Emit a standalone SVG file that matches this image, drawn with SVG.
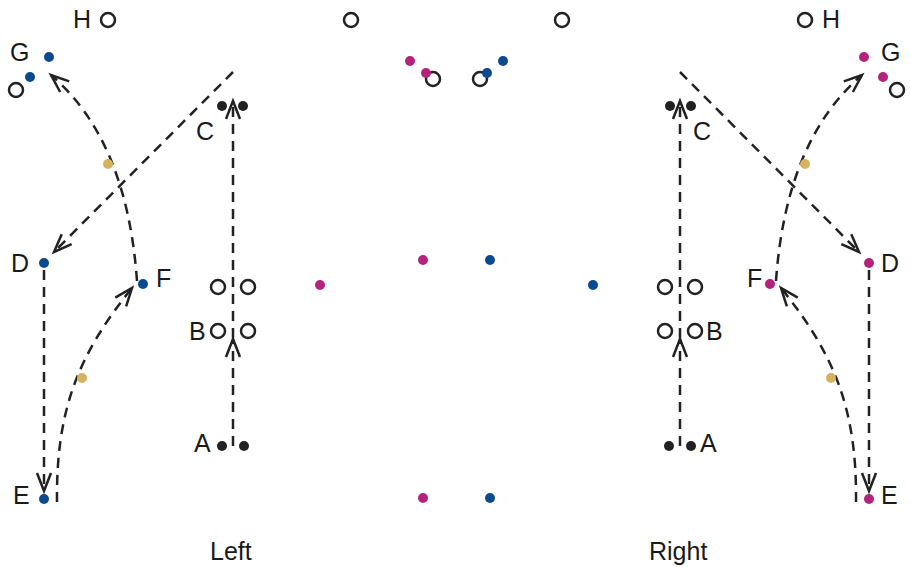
<svg xmlns="http://www.w3.org/2000/svg" width="910" height="567" viewBox="0 0 910 567">
<defs>
<style>
.lbl{font-family:"Liberation Sans","DejaVu Sans",sans-serif;font-size:25px;fill:#1a1a1a}
.route{fill:none;stroke:#222;stroke-width:2.5;stroke-dasharray:10 7;marker-end:url(#arr)}
.open{fill:#fff;stroke:#222;stroke-width:2.5}
.blk{fill:#222}
.blu{fill:#0b4a8f}
.mag{fill:#b3237b}
.tan{fill:#d6b25f}
</style>
<marker id="arr" markerUnits="userSpaceOnUse" markerWidth="40" markerHeight="40" viewBox="-20 -20 40 40" refX="0" refY="0" orient="auto">
<path d="M-18,-7 L0,0 L-18,7" fill="none" stroke="#222" stroke-width="2.5" stroke-linejoin="miter"/>
</marker>
</defs>
<rect width="910" height="567" fill="#fff"/>

<g id="connectors">
<path class="route" d="M233,446 V339"/>
<path class="route" d="M233,338 V101"/>
<path class="route" d="M233,72 L54,252"/>
<path class="route" d="M44,270 V491"/>
<path class="route" d="M57,502 C56,410 78,355 132,288"/>
<path class="route" d="M137,281 Q127,140 51,75"/>
<path class="route" d="M680,446 V339"/>
<path class="route" d="M680,338 V101"/>
<path class="route" d="M680,72 L859,252"/>
<path class="route" d="M869,270 V491"/>
<path class="route" d="M856,502 C857,410 835,355 781,288"/>
<path class="route" d="M776,281 Q786,140 862,75"/>
</g>

<g id="left-H"><circle class="open" cx="108" cy="20" r="7"/><text class="lbl" x="73" y="28">H</text></g>
<g id="left-G"><circle class="blu" cx="49" cy="57" r="5"/><circle class="blu" cx="30" cy="77" r="5"/><circle class="open" cx="16" cy="90" r="7"/><text class="lbl" x="10" y="61">G</text></g>
<g id="left-C"><circle class="blk" cx="222" cy="106" r="5"/><circle class="blk" cx="243" cy="106" r="5"/><text class="lbl" x="196" y="140">C</text></g>
<g id="left-D"><circle class="blu" cx="44" cy="263" r="5"/><text class="lbl" x="11" y="272">D</text></g>
<g id="left-F"><circle class="blu" cx="143" cy="284" r="5"/><text class="lbl" x="156" y="287">F</text></g>
<g id="left-B"><circle class="open" cx="218" cy="287" r="7"/><circle class="open" cx="248" cy="287" r="7"/><circle class="open" cx="218" cy="331" r="7"/><circle class="open" cx="248" cy="331" r="7"/><text class="lbl" x="189" y="340">B</text></g>
<g id="left-A"><circle class="blk" cx="222" cy="446" r="5"/><circle class="blk" cx="244" cy="446" r="5"/><text class="lbl" x="194" y="452">A</text></g>
<g id="left-E"><circle class="blu" cx="44" cy="499" r="5"/><text class="lbl" x="13" y="504">E</text></g>
<g id="left-tan"><circle class="tan" cx="108" cy="164" r="5"/><circle class="tan" cx="82" cy="378" r="5"/></g>

<g id="center">
<circle class="open" cx="351" cy="20" r="7"/>
<circle class="open" cx="562" cy="20" r="7"/>
<circle class="open" cx="433" cy="79" r="7"/>
<circle class="open" cx="480" cy="79" r="7"/>
<circle class="mag" cx="410" cy="61" r="5"/>
<circle class="mag" cx="426" cy="73" r="5"/>
<circle class="blu" cx="503" cy="61" r="5"/>
<circle class="blu" cx="487" cy="73" r="5"/>
<circle class="mag" cx="320" cy="285" r="5"/>
<circle class="mag" cx="423" cy="260" r="5"/>
<circle class="blu" cx="490" cy="260" r="5"/>
<circle class="blu" cx="593" cy="285" r="5"/>
<circle class="mag" cx="423" cy="498" r="5"/>
<circle class="blu" cx="490" cy="498" r="5"/>
</g>

<g id="right-H"><circle class="open" cx="805" cy="20" r="7"/><text class="lbl" x="822" y="28">H</text></g>
<g id="right-G"><circle class="mag" cx="864" cy="57" r="5"/><circle class="mag" cx="883" cy="77" r="5"/><circle class="open" cx="897" cy="90" r="7"/><text class="lbl" x="881" y="61">G</text></g>
<g id="right-C"><circle class="blk" cx="670" cy="106" r="5"/><circle class="blk" cx="691" cy="106" r="5"/><text class="lbl" x="693" y="140">C</text></g>
<g id="right-D"><circle class="mag" cx="869" cy="263" r="5"/><text class="lbl" x="881" y="272">D</text></g>
<g id="right-F"><circle class="mag" cx="770" cy="284" r="5"/><text class="lbl" x="747" y="287">F</text></g>
<g id="right-B"><circle class="open" cx="665" cy="287" r="7"/><circle class="open" cx="695" cy="287" r="7"/><circle class="open" cx="665" cy="331" r="7"/><circle class="open" cx="695" cy="331" r="7"/><text class="lbl" x="706" y="340">B</text></g>
<g id="right-A"><circle class="blk" cx="669" cy="446" r="5"/><circle class="blk" cx="691" cy="446" r="5"/><text class="lbl" x="700" y="452">A</text></g>
<g id="right-E"><circle class="mag" cx="869" cy="499" r="5"/><text class="lbl" x="881" y="504">E</text></g>
<g id="right-tan"><circle class="tan" cx="805" cy="164" r="5"/><circle class="tan" cx="831" cy="378" r="5"/></g>

<g id="captions">
<text class="lbl" x="210" y="560">Left</text>
<text class="lbl" x="649" y="560">Right</text>
</g>
</svg>
